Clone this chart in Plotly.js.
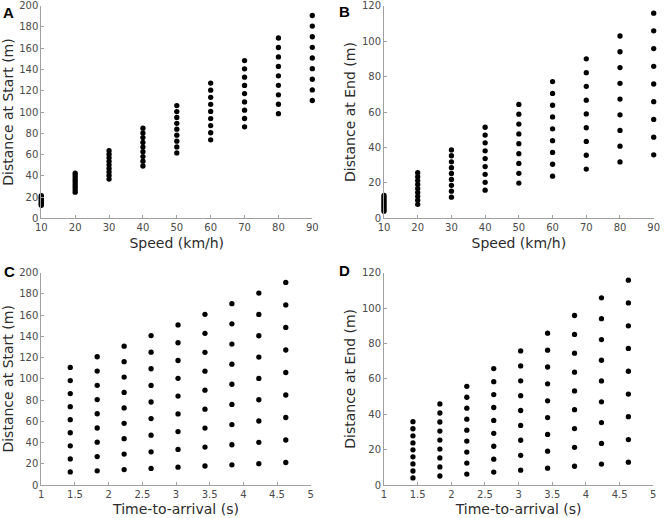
<!DOCTYPE html>
<html>
<head>
<meta charset="utf-8">
<script src="https://cdn.plot.ly/plotly-3.0.1.min.js"></script>
<style>html,body{margin:0;padding:0;background:#fff;}#chart{width:669px;height:518px;}</style>
</head>
<body>
<div id="chart"></div>
<script>
// Speeds (km/h) and time-to-arrival values (s)
const speeds = [10, 20, 30, 40, 50, 60, 70, 80, 90];
const timeToArrival = [1.43, 1.83, 2.23, 2.63, 3.03, 3.43, 3.83, 4.23, 4.63];

// Distance at start (m): one row per speed, one column per time-to-arrival
const distanceAtStart = [
  [12.3, 13.4, 14.5, 15.6, 16.8, 17.9, 19.0, 20.1, 21.2],
  [24.6, 26.8, 29.1, 31.3, 33.5, 35.7, 37.9, 40.2, 42.4],
  [36.9, 40.3, 43.6, 46.9, 50.3, 53.6, 56.9, 60.3, 63.6],
  [49.2, 53.7, 58.1, 62.6, 67.0, 71.4, 75.9, 80.3, 84.8],
  [61.5, 67.1, 72.6, 78.2, 83.8, 89.3, 94.9, 100.4, 106.0],
  [73.8, 80.5, 87.2, 93.8, 100.5, 107.2, 113.8, 120.5, 127.2],
  [86.1, 93.9, 101.7, 109.5, 117.3, 125.0, 132.8, 140.6, 148.4],
  [98.4, 107.3, 116.2, 125.1, 134.0, 142.9, 151.8, 160.7, 169.6],
  [110.8, 120.8, 130.8, 140.8, 150.8, 160.8, 170.8, 180.8, 190.8]
];

// Distance at end (m): one row per speed, one column per time-to-arrival
const distanceAtEnd = [
  [4.0, 5.1, 6.2, 7.3, 8.4, 9.5, 10.6, 11.8, 12.9],
  [7.9, 10.2, 12.4, 14.6, 16.8, 19.1, 21.3, 23.5, 25.7],
  [11.9, 15.3, 18.6, 21.9, 25.3, 28.6, 31.9, 35.3, 38.6],
  [15.9, 20.3, 24.8, 29.2, 33.7, 38.1, 42.6, 47.0, 51.4],
  [19.9, 25.4, 31.0, 36.5, 42.1, 47.6, 53.2, 58.8, 64.3],
  [23.8, 30.5, 37.2, 43.8, 50.5, 57.2, 63.8, 70.5, 77.2],
  [27.8, 35.6, 43.4, 51.1, 58.9, 66.7, 74.5, 82.2, 90.0],
  [31.8, 40.7, 49.6, 58.4, 67.3, 76.2, 85.1, 94.0, 102.9],
  [35.8, 45.8, 55.8, 65.8, 75.8, 85.8, 95.8, 105.8, 115.8]
];

const panelLabels = ['A', 'B', 'C', 'D'];
const xTitles = ['Speed (km/h)', 'Speed (km/h)', 'Time-to-arrival (s)', 'Time-to-arrival (s)'];
const yTitles = ['Distance at Start (m)', 'Distance at End (m)', 'Distance at Start (m)', 'Distance at End (m)'];

function flatten(table, xFn) {
  const xs = [], ys = [];
  table.forEach((row, i) => row.forEach((v, j) => { xs.push(xFn(i, j)); ys.push(v); }));
  return {xs, ys};
}

const bySpeedStart = flatten(distanceAtStart, (i, j) => speeds[i]);
const bySpeedEnd = flatten(distanceAtEnd, (i, j) => speeds[i]);
const byTtaStart = flatten(distanceAtStart, (i, j) => timeToArrival[j]);
const byTtaEnd = flatten(distanceAtEnd, (i, j) => timeToArrival[j]);

const marker = {color: '#000', size: 5.3, line: {width: 0}};
const traces = [
  {x: bySpeedStart.xs, y: bySpeedStart.ys, xaxis: 'x', yaxis: 'y'},
  {x: bySpeedEnd.xs, y: bySpeedEnd.ys, xaxis: 'x2', yaxis: 'y2'},
  {x: byTtaStart.xs, y: byTtaStart.ys, xaxis: 'x3', yaxis: 'y3'},
  {x: byTtaEnd.xs, y: byTtaEnd.ys, xaxis: 'x4', yaxis: 'y4'}
].map(t => Object.assign(t, {type: 'scatter', mode: 'markers', marker, cliponaxis: false,
  showlegend: false, hoverinfo: 'skip'}));

const W = 669, H = 518;
const tickFont = {family: 'DejaVu Sans, Verdana, sans-serif', size: 10, color: '#4a4a4a'};
const titleFont = {family: 'DejaVu Sans, Verdana, sans-serif', size: 14, color: '#2b2b2b'};

function common() {
  return {showline: true, linecolor: '#a0a0a0', linewidth: 1, ticks: 'inside', ticklen: 3,
    tickcolor: '#a0a0a0', showgrid: false, zeroline: false, tickfont: tickFont, fixedrange: true,
    ticklabeloverflow: 'allow'};
}
function xAxis(px0, px1, range, dtick, title, anchor) {
  return Object.assign(common(), {domain: [px0 / W, px1 / W], range, dtick, tick0: range[0], anchor,
    title: {text: title, font: titleFont, standoff: 5}});
}
function yAxis(py0, py1, range, dtick, title, anchor) {
  return Object.assign(common(), {domain: [1 - py1 / H, 1 - py0 / H], range, dtick, tick0: 0, anchor,
    title: {text: title, font: titleFont, standoff: 3}});
}

const layout = {
  width: W, height: H,
  margin: {l: 0, r: 0, t: 0, b: 0},
  paper_bgcolor: '#fff', plot_bgcolor: '#fff',
  xaxis: xAxis(41.3, 312.3, [10, 90], 10, xTitles[0], 'y'),
  yaxis: yAxis(5.7, 218.3, [0, 200], 20, yTitles[0], 'x'),
  xaxis2: xAxis(384, 653.7, [10, 90], 10, xTitles[1], 'y2'),
  yaxis2: yAxis(5.7, 218.3, [0, 120], 20, yTitles[1], 'x2'),
  xaxis3: xAxis(41.3, 310.7, [1, 5], 0.5, xTitles[2], 'y3'),
  yaxis3: yAxis(272.7, 485, [0, 200], 20, yTitles[2], 'x3'),
  xaxis4: xAxis(384, 653.3, [1, 5], 0.5, xTitles[3], 'y4'),
  yaxis4: yAxis(272.7, 485, [0, 120], 20, yTitles[3], 'x4'),
  annotations: [
    [8.5, 12.5], [344, 12], [9, 271], [344, 270]
  ].map((p, k) => ({text: '<b>' + panelLabels[k] + '</b>', x: p[0] / W, y: 1 - p[1] / H,
    xref: 'paper', yref: 'paper', xanchor: 'center', yanchor: 'middle', showarrow: false,
    font: {family: 'Liberation Sans, Arial, sans-serif', size: 15, color: '#000'}}))
};

Plotly.newPlot('chart', traces, layout, {staticPlot: true, displayModeBar: false});
</script>
</body>
</html>
